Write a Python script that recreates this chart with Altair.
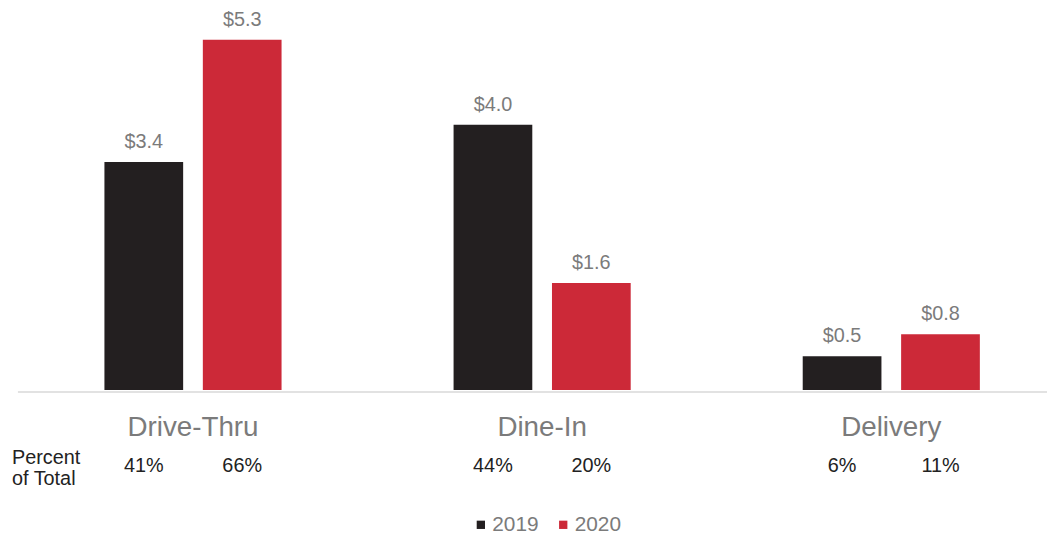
import altair as alt
import pandas as pd

categories = ["Drive-Thru", "Dine-In", "Delivery"]
years = ["2019", "2020"]
sales_2019 = [3.43, 3.99, 0.51]
sales_2020 = [5.27, 1.61, 0.84]
pct_2019 = ["41%", "44%", "6%"]
pct_2020 = ["66%", "20%", "11%"]
colors = ["#231f20", "#cc2938"]

rows = []
for i, c in enumerate(categories):
    rows.append({"category": c, "year": years[0], "value": sales_2019[i], "pct": pct_2019[i]})
    rows.append({"category": c, "year": years[1], "value": sales_2020[i], "pct": pct_2020[i]})
df = pd.DataFrame(rows)

FONT = "Liberation Sans"
GRAY = "#7b7b7b"

x = alt.X("category:N", sort=categories,
          scale=alt.Scale(range=[0.5, 1056], paddingInner=0, paddingOuter=0),
          axis=alt.Axis(title=None, domain=False, ticks=False, labelAngle=0,
                        labelFontSize=28, labelColor=GRAY, labelFont=FONT,
                        labelPadding=24))
xo = alt.XOffset("year:N", sort=years, scale=alt.Scale(paddingInner=0.2, paddingOuter=0.874))
y = alt.Y("value:Q", scale=alt.Scale(domain=[0, 5.27], nice=False), axis=None)

base = alt.Chart(df)

bars = base.mark_bar().encode(
    x=x, xOffset=xo, y=y,
    color=alt.Color("year:N", sort=years,
                    scale=alt.Scale(domain=years, range=colors),
                    legend=alt.Legend(title=None, orient="none", direction="horizontal",
                                      legendX=456, legendY=478, padding=0,
                                      symbolType="square", symbolSize=70,
                                      symbolStrokeWidth=0, labelFontSize=21,
                                      labelColor=GRAY, labelFont=FONT,
                                      labelOffset=1, columnPadding=14)),
)

value_labels = base.mark_text(baseline="alphabetic", dy=-14, fontSize=20,
                              color=GRAY, font=FONT).encode(
    x=x, xOffset=xo, y=y, text=alt.Text("value:Q", format="$.1f"))

pct_labels = base.mark_text(baseline="middle", fontSize=20, color="#222222",
                            font=FONT).encode(
    x=x, xOffset=xo, y=alt.value(430), text="pct:N")

one = pd.DataFrame({"k": [0]})
row_title = alt.Chart(one).mark_text(
    align="left", baseline="middle", fontSize=20, lineHeight=22,
    color="#222222", font=FONT, text=["Percent", "of Total"]
).encode(x=alt.value(-6), y=alt.value(421))

baseline = alt.Chart(one).mark_rule(color="#d9d9d9", strokeWidth=1.5).encode(
    x=alt.value(0), x2=alt.value(1037), y=alt.value(355))

chart = alt.layer(baseline, bars, value_labels, pct_labels, row_title).properties(
    width=1035, height=353,
    autosize=alt.AutoSizeParams(type="none"),
    padding={"left": 10, "top": 30, "right": 2, "bottom": 146},
).configure_view(stroke=None)

chart.save("out.html", embed_options={"renderer": "svg", "actions": False})
